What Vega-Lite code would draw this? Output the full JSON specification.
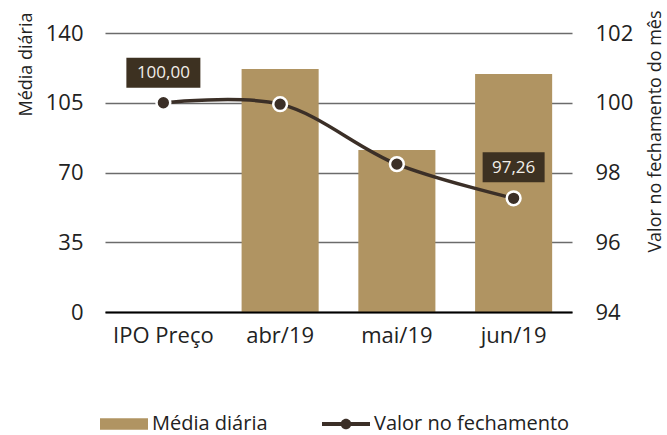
{
  "$schema": "https://vega.github.io/schema/vega-lite/v6.json",
  "width": 467,
  "height": 279,
  "autosize": "none",
  "padding": {"left": 105, "top": 33, "right": 95, "bottom": 123},
  "background": "white",
  "config": {
    "view": {"stroke": null},
    "font": "Open Sans",
    "axis": {"labelFont": "Open Sans", "titleFont": "Open Sans", "labelColor": "#222222", "titleColor": "#222222", "titleFontWeight": "normal"},
    "legend": {"labelFont": "Open Sans"}
  },
  "data": {
    "values": [
      {"mes": "IPO Preço", "media": null, "valor": 100.00, "rotulo": "100,00"},
      {"mes": "abr/19", "media": 121.9, "valor": 99.96, "rotulo": ""},
      {"mes": "mai/19", "media": 81.3, "valor": 98.24, "rotulo": ""},
      {"mes": "jun/19", "media": 119.4, "valor": 97.26, "rotulo": "97,26"}
    ]
  },
  "encoding": {
    "x": {
      "field": "mes",
      "type": "nominal",
      "sort": ["IPO Preço", "abr/19", "mai/19", "jun/19"],
      "scale": {"paddingInner": 0.34, "paddingOuter": 0.17},
      "axis": {
        "title": null,
        "labelAngle": 0,
        "labelFontSize": 22,
        "labelPadding": 13,
        "ticks": false,
        "domainColor": "#000000",
        "domainWidth": 2,
        "zindex": 1
      }
    }
  },
  "layer": [
    {
      "mark": {"type": "bar"},
      "encoding": {
        "y": {
          "field": "media",
          "type": "quantitative",
          "scale": {"domain": [0, 140]},
          "axis": {
            "title": "Média diária",
            "titleFontSize": 18,
            "titleAngle": -90,
            "titleAlign": "right",
            "titleBaseline": "alphabetic",
            "titleX": -74,
            "titleY": -21,
            "values": [0, 35, 70, 105, 140],
            "labelFontSize": 22,
            "labelPadding": 22,
            "ticks": false,
            "domain": false,
            "grid": true,
            "gridColor": "#6b6b6b",
            "gridWidth": 1.5
          }
        },
        "color": {
          "datum": "Média diária",
          "type": "nominal",
          "scale": {"domain": ["Média diária", "Valor no fechamento"], "range": ["#b09462", "#3b2f27"]},
          "legend": {
            "title": null,
            "orient": "none",
            "direction": "horizontal",
            "legendX": -5,
            "legendY": 367,
            "labelFontSize": 20,
            "labelLimit": 0,
            "labelColor": "#222222",
            "labelOffset": 4,
            "columnPadding": 54,
            "symbolSize": 2304,
            "symbolStrokeWidth": 0,
            "symbolOpacity": 1,
            "encode": {
              "symbols": {
                "update": {
                  "shape": {"signal": "datum.value === 'Média diária' ? 'M-1,-0.24H1V0.24H-1Z' : 'M-1,-0.08H1V0.08H-1Z M-0.22,0A0.22,0.22 0 1 1 0.22,0A0.22,0.22 0 1 1 -0.22,0Z'"},
                  "strokeWidth": {"value": 0}
                }
              }
            }
          }
        }
      }
    },
    {
      "encoding": {
        "y": {
          "field": "valor",
          "type": "quantitative",
          "scale": {"domain": [94, 102]},
          "axis": {
            "orient": "right",
            "title": "Valor no fechamento do mês",
            "titleFontSize": 18,
            "titleAngle": -90,
            "titleAlign": "right",
            "titleBaseline": "alphabetic",
            "titleX": 88,
            "titleY": -23,
            "values": [94, 96, 98, 100, 102],
            "labelFontSize": 22,
            "labelPadding": 23,
            "ticks": false,
            "domain": false,
            "grid": false
          }
        }
      },
      "layer": [
        {
          "mark": {"type": "line", "interpolate": "catmull-rom", "color": "#3b2f27", "strokeWidth": 3.5}
        },
        {
          "mark": {"type": "point", "shape": "circle", "filled": true, "size": 190, "color": "#3b2f27", "stroke": "#ffffff", "strokeWidth": 2.5, "opacity": 1}
        },
        {
          "transform": [{"filter": "datum.rotulo !== ''"}],
          "mark": {"type": "point", "filled": true, "size": 10000, "color": "#3d3121", "opacity": 1, "strokeWidth": 0},
          "encoding": {
            "shape": {
              "field": "rotulo",
              "type": "nominal",
              "scale": {"domain": ["100,00", "97,26"], "range": ["M-0.74,-0.9H0.74V-0.3H-0.74Z", "M-0.62,-0.92H0.62V-0.32H-0.62Z"]},
              "legend": null
            }
          }
        },
        {
          "transform": [{"filter": "datum.rotulo !== ''"}],
          "mark": {"type": "text", "dy": -30, "fontSize": 17, "color": "#f2eee8", "baseline": "middle", "align": "center"},
          "encoding": {"text": {"field": "rotulo"}}
        }
      ]
    }
  ],
  "resolve": {"scale": {"y": "independent", "color": "independent", "shape": "independent"}}
}
